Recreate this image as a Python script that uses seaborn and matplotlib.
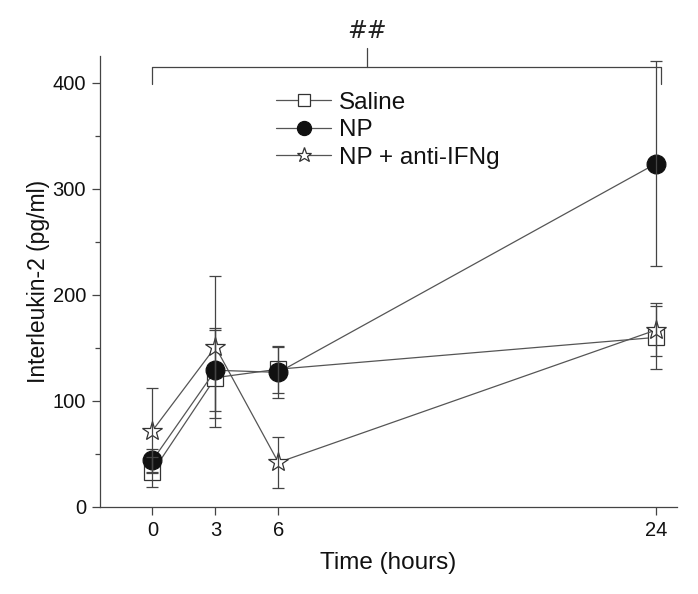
import numpy as np
import pandas as pd
import matplotlib
matplotlib.use("Agg")
import matplotlib.pyplot as plt
import seaborn as sns
from matplotlib.lines import Line2D

# ---- data ----
times = [0, 3, 6, 24]
groups = ["Saline", "NP", "NP + anti-IFNg"]
saline_mean = [33, 122, 130, 160]
saline_err = [14, 47, 22, 30]
np_mean = [44, 129, 127, 324]
np_err = [11, 38, 24, 97]
anti_mean = [72, 151, 42, 167]
anti_err = [40, 67, 24, 25]
x_ticks = [0, 3, 6, 24]
y_ticks = [0, 100, 200, 300, 400]

means = {"Saline": saline_mean, "NP": np_mean, "NP + anti-IFNg": anti_mean}
errs = {"Saline": saline_err, "NP": np_err, "NP + anti-IFNg": anti_err}

rows = []
for g in groups:
    for t, m in zip(times, means[g]):
        rows.append({"time": t, "value": m, "group": g})
df = pd.DataFrame(rows)

sns.set_style("ticks")
plt.rcParams["font.family"] = ["Liberation Sans", "DejaVu Sans"]
plt.rcParams["text.color"] = "#111111"
plt.rcParams["axes.labelcolor"] = "#111111"
plt.rcParams["xtick.labelcolor"] = "#111111"
plt.rcParams["ytick.labelcolor"] = "#111111"

fig = plt.figure(figsize=(6.98, 5.94), dpi=100)
ax = fig.add_axes([0.1433, 0.1465, 0.8267, 0.7584])

line_col = "#555555"
edge_col = "#333333"
markers = {"Saline": "s", "NP": "o", "NP + anti-IFNg": "*"}
sizes = {"Saline": 11, "NP": 13.5, "NP + anti-IFNg": 15}
faces = {"Saline": "white", "NP": "#111111", "NP + anti-IFNg": "white"}

sns.lineplot(data=df, x="time", y="value", hue="group", style="group",
             hue_order=groups, style_order=groups,
             palette={g: line_col for g in groups}, markers=markers,
             dashes=False, linewidth=0.9, ax=ax, legend=False, zorder=2)

for ln, g in zip(ax.lines, groups):
    ln.set_markerfacecolor(faces[g])
    ln.set_markeredgecolor(edge_col if g != "NP" else "#111111")
    ln.set_markersize(sizes[g])
    ln.set_markeredgewidth(0.9)

for g in groups:
    ax.errorbar(times, means[g], yerr=errs[g], fmt="none", ecolor="#444444",
                elinewidth=0.9, capsize=4, capthick=0.9, zorder=3)

ax.set_xlim(-2.5, 25)
ax.set_ylim(0, 425)
ax.set_xticks(x_ticks)
ax.set_xticklabels([str(v) for v in x_ticks])
ax.set_yticks(y_ticks)
ax.set_yticks([50, 150, 250, 350], minor=True)
ax.tick_params(axis="both", which="major", direction="out", length=6,
               width=0.9, color="#444444", labelsize=14.5, pad=4)
ax.tick_params(axis="y", which="minor", direction="out", length=3.5,
               width=0.9, color="#444444")
for s in ["top", "right"]:
    ax.spines[s].set_visible(False)
for s in ["left", "bottom"]:
    ax.spines[s].set_color("#444444")
    ax.spines[s].set_linewidth(0.9)

ax.set_xlabel("Time (hours)", fontsize=17.5, labelpad=9)
ax.set_ylabel("Interleukin-2 (pg/ml)", fontsize=16.5, labelpad=2)

# significance bracket
bk = dict(color="#444444", lw=0.9, clip_on=False)
ax.plot([0, 0, 24.25, 24.25], [399, 415, 415, 399], **bk)
ax.plot([10.24, 10.24], [415, 433], **bk)
ax.text(10.24, 449, "##", ha="center", va="center", fontsize=17,
        fontstyle="italic", family=["DejaVu Sans"], color="#222222", clip_on=False)

handles = [Line2D([], [], color=line_col, lw=0.9, marker=markers[g],
                  markersize=sizes[g] * 0.75, markerfacecolor=faces[g],
                  markeredgecolor=edge_col if g != "NP" else "#111111",
                  markeredgewidth=0.9) for g in groups]
leg = ax.legend(handles, groups, loc="upper left", bbox_to_anchor=(0.30, 0.927),
                frameon=False, fontsize=17.5, handlelength=2.3, handletextpad=0.3,
                labelspacing=0.22, borderpad=0.1, borderaxespad=0.0)

fig.savefig("out.png", dpi=100)
